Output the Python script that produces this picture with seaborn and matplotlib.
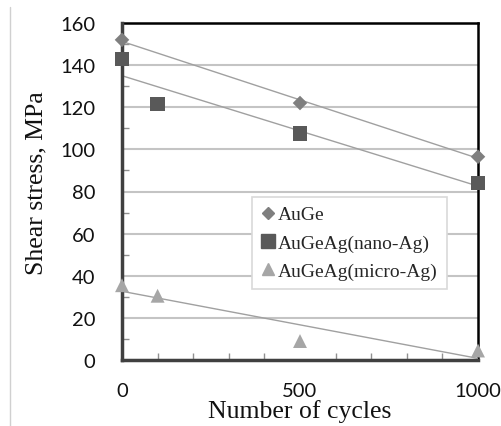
import matplotlib
matplotlib.use("Agg")
import matplotlib.pyplot as plt
from matplotlib.lines import Line2D
import seaborn as sns
import numpy as np
import pandas as pd

cycles_auge = [0, 500, 1000]
stress_auge = [152, 122, 96.5]
cycles_nano = [0, 100, 500, 1000]
stress_nano = [143, 121.5, 107.5, 84]
cycles_micro = [0, 100, 500, 1000]
stress_micro = [35.5, 30.5, 9, 4.5]
series_names = ["AuGe", "AuGeAg(nano-Ag)", "AuGeAg(micro-Ag)"]
y_ticks = [0, 20, 40, 60, 80, 100, 120, 140, 160]
x_ticks = [0, 500, 1000]

sns.set_theme(style="white")
serif = ["Liberation Serif", "DejaVu Serif"]
sans = ["Lato", "DejaVu Sans"]

fig = plt.figure(figsize=(5.01, 4.27), dpi=100)
ax = fig.add_axes([122/501, 66/427, 356/501, 337/427])

colors = ["#7f7f7f", "#595959", "#a6a6a6"]
markers = ["D", "s", "^"]
sizes = [55, 110, 100]
data = [(cycles_auge, stress_auge), (cycles_nano, stress_nano), (cycles_micro, stress_micro)]

for (xs, ys), c, m, s, name in zip(data, colors, markers, sizes, series_names):
    df = pd.DataFrame({"x": xs, "y": ys})
    sns.regplot(data=df, x="x", y="y", ax=ax, ci=None, scatter=False,
                line_kws=dict(color="#a0a0a0", lw=1.0, zorder=3))
    sns.scatterplot(data=df, x="x", y="y", ax=ax, color=c, marker=m, s=s,
                    edgecolor="none", linewidth=0, zorder=5, clip_on=False)

ax.set_xlim(0, 1000)
ax.set_ylim(0, 160)
ax.set_yticks(y_ticks)
ax.set_xticks(x_ticks)
ax.set_yticks(np.arange(10, 160, 20), minor=True)
ax.set_xticks(np.arange(100, 1000, 100), minor=True)
ax.grid(axis="y", which="major", color="#c4c4c4", lw=1.5, zorder=0)
ax.set_axisbelow(True)
ax.tick_params(axis="both", which="major", length=0, labelsize=14.5)
ax.tick_params(axis="y", which="major", pad=19)
ax.tick_params(axis="x", which="major", pad=16)
ax.tick_params(axis="both", which="minor", length=5, width=1, color="#909090", direction="in")
ax.tick_params(axis="x", which="minor", bottom=True)
ax.tick_params(axis="y", which="minor", left=True)
for lab in ax.get_xticklabels() + ax.get_yticklabels():
    lab.set_family(sans)
    lab.set_color("#111111")

for side in ["top", "right"]:
    ax.spines[side].set_color("black")
    ax.spines[side].set_linewidth(1.8)
for side in ["left", "bottom"]:
    ax.spines[side].set_color("#404040")
    ax.spines[side].set_linewidth(2.5)
    ax.spines[side].set_zorder(4)

ax.set_xlabel("Number of cycles", family=serif, fontsize=18.5, color="#111111")
ax.set_ylabel("Shear stress, MPa", family=serif, fontsize=18.5, color="#111111")
ax.xaxis.set_label_coords(0.5, (361 - 400) / 337)
ax.yaxis.label.set_va("center")
ax.yaxis.set_label_coords((36 - 122) / 356, (361 - 183) / 337)

handles = [Line2D([], [], ls="none", marker=m, color=c, markersize=ms)
           for m, c, ms in zip(markers, colors, [6.5, 9.5, 8.5])]
leg = ax.legend(handles, series_names, loc="lower left", bbox_to_anchor=(0.365, 0.211),
                borderaxespad=0, frameon=True, fancybox=False, edgecolor="#d9d9d9",
                framealpha=1, handlelength=0.8, handletextpad=0.1, borderpad=0.45,
                labelspacing=0.55, prop=dict(family=serif, size=14))
leg.get_frame().set_linewidth(1.2)
leg.set_zorder(6)

fig.add_artist(Line2D([10/501, 10/501], [0, 1 - 8/427], color="#d0d0d0", lw=1))

fig.savefig("out.png", dpi=100)
